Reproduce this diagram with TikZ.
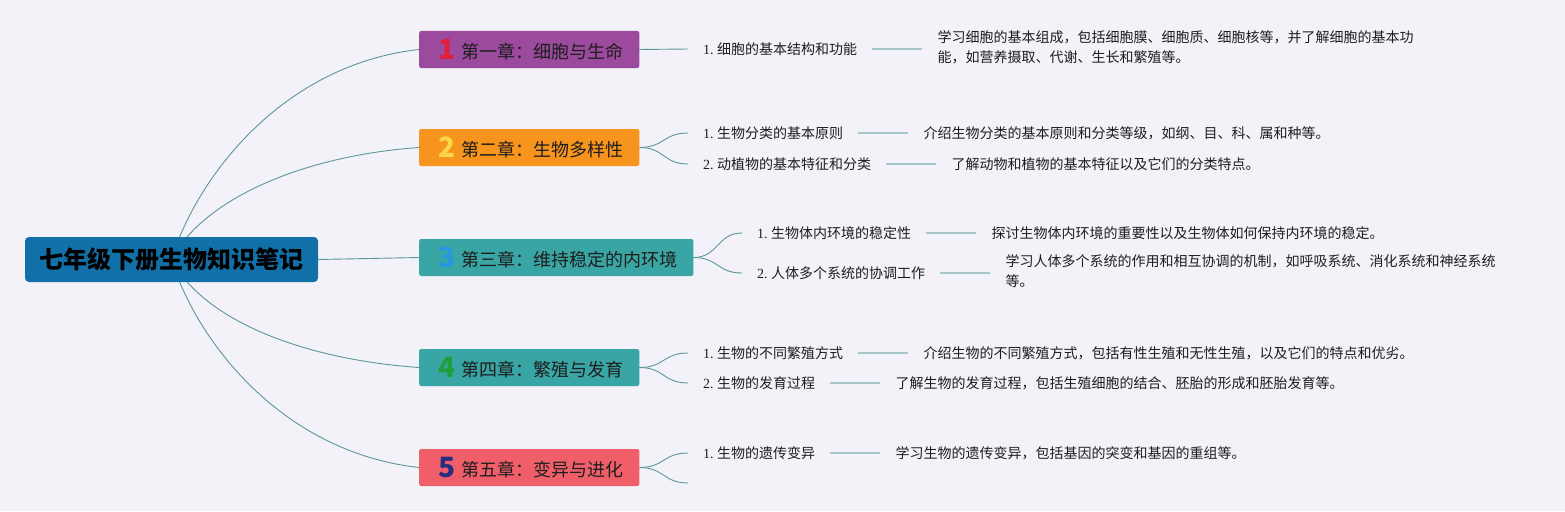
\documentclass[tikz,border=0pt]{standalone}
\usepackage{fontspec}
\setmainfont{Noto Sans CJK SC}
\newfontfamily\lat{Liberation Serif}
\usetikzlibrary{backgrounds}
\definecolor{bgc}{RGB}{242,242,248}
\definecolor{rootc}{RGB}{17,112,168}
\definecolor{cpurple}{RGB}{156,74,157}
\definecolor{corange}{RGB}{247,148,29}
\definecolor{cteal}{RGB}{58,165,165}
\definecolor{cred}{RGB}{240,95,105}
\definecolor{dA}{RGB}{225,30,60}
\definecolor{dB}{RGB}{250,215,70}
\definecolor{dC}{RGB}{40,150,225}
\definecolor{dD}{RGB}{30,160,60}
\definecolor{dE}{RGB}{40,45,130}
\definecolor{connc}{RGB}{95,150,150}
\definecolor{leadc}{RGB}{165,198,198}
\definecolor{txt}{RGB}{30,30,30}
\newcommand\chnum[2]{\hspace{3pt}\raisebox{-1pt}{\bfseries\fontsize{28}{28}\selectfont\textcolor{#1}{#2}}\hspace{6pt}}
\newcommand\itn[1]{{\lat #1.\ }}
\begin{document}
\begin{tikzpicture}[x=1pt,y=-1pt,
  conn/.style={draw=connc,line width=0.9pt},
  lead/.style={draw=leadc,line width=2pt},
  rootbox/.style={fill=rootc,rounded corners=4pt,minimum width=293pt,minimum height=45pt,inner sep=0pt,
    font=\fontsize{24}{28}\selectfont\bfseries,text=black},
  chap/.style={anchor=west,rounded corners=2pt,minimum height=37pt,inner ysep=0pt,inner xsep=16pt,
    font=\fontsize{18}{22}\selectfont,text=txt},
  item/.style={anchor=west,inner xsep=15pt,inner ysep=2pt,font=\fontsize{14}{17}\selectfont,text=txt},
  desc/.style={anchor=west,inner xsep=15pt,inner ysep=2pt,align=left,font=\fontsize{14}{20}\selectfont,text=txt}]
\useasboundingbox (0,0) rectangle (1565,511);

\node[rootbox] (root) at (171.5,259.5) {七年级下册生物知识笔记};

\node[chap,fill=cpurple] (c1) at (419,49.5) {\chnum{dA}{1}第一章：细胞与生命};
\node[chap,fill=corange] (c2) at (419,147.5) {\chnum{dB}{2}第二章：生物多样性};
\node[chap,fill=cteal] (c3) at (419,257.5) {\chnum{dC}{3}第三章：维持稳定的内环境};
\node[chap,fill=cteal] (c4) at (419,367.5) {\chnum{dD}{4}第四章：繁殖与发育};
\node[chap,fill=cred] (c5) at (419,467.5) {\chnum{dE}{5}第五章：变异与进化};

\node[item] (i11) at (688,49) {\itn{1}细胞的基本结构和功能};
\node[item] (i21) at (688,133) {\itn{1}生物分类的基本原则};
\node[item] (i22) at (688,164) {\itn{2}动植物的基本特征和分类};
\node[item] (i31) at (742,233) {\itn{1}生物体内环境的稳定性};
\node[item] (i32) at (742,273) {\itn{2}人体多个系统的协调工作};
\node[item] (i41) at (688,353) {\itn{1}生物的不同繁殖方式};
\node[item] (i42) at (688,383) {\itn{2}生物的发育过程};
\node[item] (i51) at (688,453) {\itn{1}生物的遗传变异};
\coordinate (i52) at (688,483);

\node[desc] (d11) at ([xshift=50pt,yshift=2pt]i11.east) {学习细胞的基本组成，包括细胞膜、细胞质、细胞核等，并了解细胞的基本功\\能，如营养摄取、代谢、生长和繁殖等。};
\node[desc] (d21) at ([xshift=50pt]i21.east) {介绍生物分类的基本原则和分类等级，如纲、目、科、属和种等。};
\node[desc] (d22) at ([xshift=50pt]i22.east) {了解动物和植物的基本特征以及它们的分类特点。};
\node[desc] (d31) at ([xshift=50pt]i31.east) {探讨生物体内环境的重要性以及生物体如何保持内环境的稳定。};
\node[desc] (d32) at ([xshift=50pt,yshift=1.5pt]i32.east) {学习人体多个系统的作用和相互协调的机制，如呼吸系统、消化系统和神经系统\\等。};
\node[desc] (d41) at ([xshift=50pt]i41.east) {介绍生物的不同繁殖方式，包括有性生殖和无性生殖，以及它们的特点和优劣。};
\node[desc] (d42) at ([xshift=50pt]i42.east) {了解生物的发育过程，包括生殖细胞的结合、胚胎的形成和胚胎发育等。};
\node[desc] (d51) at ([xshift=50pt]i51.east) {学习生物的遗传变异，包括基因的突变和基因的重组等。};

\begin{pgfonlayer}{background}
\fill[bgc] (0,0) rectangle (1565,511);
\draw[conn] (root.center) .. controls +(24,-79) and +(-139,15.5) .. (c1.west);
\draw[conn] (root.center) .. controls +(34,-64) and +(-109,7.5) .. (c2.west);
\draw[conn] (root.east) -- (c3.west);
\draw[conn] (root.center) .. controls +(34,64) and +(-109,-7.5) .. (c4.west);
\draw[conn] (root.center) .. controls +(24,79) and +(-139,-15.5) .. (c5.west);

\draw[conn] (c1.east) -- (i11.west);
\draw[conn] (c2.east) .. controls +(25,0) and +(-25,0) .. (i21.west);
\draw[conn] (c2.east) .. controls +(25,0) and +(-25,0) .. (i22.west);
\draw[conn] (c3.east) .. controls +(25,0) and +(-25,0) .. (i31.west);
\draw[conn] (c3.east) .. controls +(25,0) and +(-25,0) .. (i32.west);
\draw[conn] (c4.east) .. controls +(25,0) and +(-25,0) .. (i41.west);
\draw[conn] (c4.east) .. controls +(25,0) and +(-25,0) .. (i42.west);
\draw[conn] (c5.east) .. controls +(25,0) and +(-25,0) .. (i51.west);
\draw[conn] (c5.east) .. controls +(25,0) and +(-25,0) .. (i52);

\draw[lead] (i11.east) -- (d11.west |- i11.east);
\draw[lead] (i21.east) -- (d21.west |- i21.east);
\draw[lead] (i22.east) -- (d22.west |- i22.east);
\draw[lead] (i31.east) -- (d31.west |- i31.east);
\draw[lead] (i32.east) -- (d32.west |- i32.east);
\draw[lead] (i41.east) -- (d41.west |- i41.east);
\draw[lead] (i42.east) -- (d42.west |- i42.east);
\draw[lead] (i51.east) -- (d51.west |- i51.east);
\end{pgfonlayer}
\end{tikzpicture}
\end{document}
